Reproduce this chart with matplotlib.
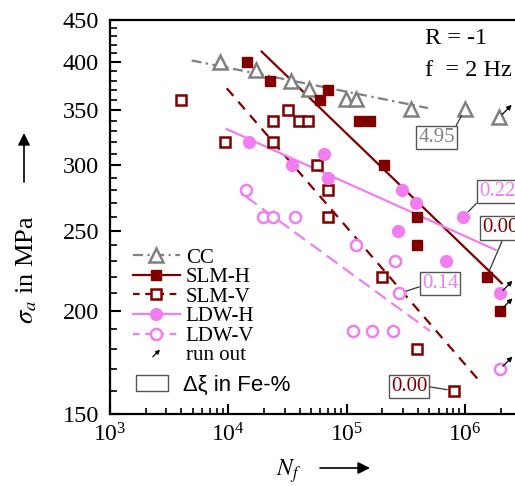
import matplotlib
matplotlib.use("Agg")
import matplotlib.pyplot as plt
from matplotlib.lines import Line2D
from matplotlib.patches import Rectangle, FancyArrowPatch
from matplotlib.legend_handler import HandlerBase
from matplotlib.ticker import FixedLocator, FixedFormatter, LogLocator, NullFormatter

plt.rcParams["font.family"] = ["Liberation Serif", "DejaVu Serif"]
plt.rcParams["mathtext.fontset"] = "stix"

# cycles to failure N_f and stress amplitude in MPa
cc_n = [8.5e3, 1.72e4, 3.4e4, 4.8e4, 9.9e4, 1.2e5, 3.5e5, 1.0e6, 1.95e6]
cc_s = [400, 391, 380, 371, 361, 361, 351, 351, 343]

slmh_n = [1.45e4, 2.25e4, 5.95e4, 7.0e4, 1.28e5, 1.58e5, 2.07e5, 3.92e5, 3.96e5, 1.53e6, 1.98e6]
slmh_s = [400, 380, 360, 370, 340, 340, 300, 260, 240, 220, 200]

slmv_n = [4.0e3, 9.4e3, 2.37e4, 2.4e4, 3.22e4, 3.98e4, 4.75e4, 5.6e4, 6.9e4, 7.0e4, 2.0e5, 3.96e5, 8.1e5]
slmv_s = [360, 320, 320, 340, 350, 340, 340, 300, 280, 260, 220, 180, 160]

ldwh_n = [1.5e4, 3.44e4, 6.44e4, 7.0e4, 2.74e5, 2.92e5, 3.86e5, 6.92e5, 9.7e5, 1.98e6]
ldwh_s = [320, 300, 310, 290, 250, 280, 270, 230, 260, 210]

ldwv_n = [1.4e4, 1.95e4, 2.4e4, 3.66e4, 1.13e5, 1.21e5, 1.63e5, 2.45e5, 2.57e5, 2.79e5, 1.98e6]
ldwv_s = [280, 260, 260, 260, 189, 240, 189, 189, 230, 210, 170]

# Basquin fit lines (end points)
cc_fit_n, cc_fit_s = [4.9e3, 4.87e5], [402, 352]
slmh_fit_n, slmh_fit_s = [1.915e4, 2.05e6], [412, 216]
slmv_fit_n, slmv_fit_s = [9.7e3, 1.30e6], [372, 165]
ldwh_fit_n, ldwh_fit_s = [9.7e3, 1.82e6], [332, 237]
ldwv_fit_n, ldwv_fit_s = [1.41e4, 5.07e5], [275, 189]

# delta xi labels: text, box position, point it refers to
dxi_text = ["4.95", "0.22", "0.00", "0.14", "0.00"]
dxi_box_n = [5.75e5, 1.87e6, 1.98e6, 6.16e5, 3.37e5]
dxi_box_s = [324, 279, 252, 216, 162]
dxi_pt_n = [1.0e6, 9.7e5, 1.53e6, 2.79e5, 8.1e5]
dxi_pt_s = [351, 260, 220, 210, 160]
dxi_relpos = [(1, 1), (0, 0), (0.6, 0), (0, 0.35), (1, 0.5)]

x_major = [1e3, 1e4, 1e5, 1e6]
y_major = [150, 200, 250, 300, 350, 400, 450]
y_minor = [s for s in range(160, 450, 10) if s % 50]

gray = "#808080"
maroon = "#800000"
violet = "#f07ef0"
dxi_color = [gray, violet, maroon, violet, maroon]

fig = plt.figure(figsize=(5.15, 4.86), dpi=100)
fig.patch.set_facecolor("white")
ax = fig.add_axes([110 / 515, 72 / 486, 473.2 / 515, 394 / 486])
ax.set_xscale("log")
ax.set_yscale("log")
ax.set_xlim(1e3, 1e7)
ax.set_ylim(150, 450)

# fit lines
ax.plot(cc_fit_n, cc_fit_s, color=gray, lw=1.6, dashes=(4.5, 2, 1, 2))
ax.plot(slmh_fit_n, slmh_fit_s, color=maroon, lw=1.6)
ax.plot(slmv_fit_n, slmv_fit_s, color=maroon, lw=1.6, dashes=(4.5, 3.5))
ax.plot(ldwh_fit_n, ldwh_fit_s, color=violet, lw=1.6)
ax.plot(ldwv_fit_n, ldwv_fit_s, color=violet, lw=1.6, dashes=(6, 3))

# test results
ax.plot(cc_n, cc_s, ls="none", marker="^", ms=10, mfc="white", mec=gray, mew=1.8)
ax.plot(slmh_n, slmh_s, ls="none", marker="s", ms=7.5, mfc=maroon, mec=maroon)
ax.plot(slmv_n, slmv_s, ls="none", marker="s", ms=7, mfc="white", mec=maroon, mew=1.8)
ax.plot(ldwh_n, ldwh_s, ls="none", marker="o", ms=8.5, mfc=violet, mec=violet)
ax.plot(ldwv_n, ldwv_s, ls="none", marker="o", ms=8, mfc="white", mec=violet, mew=1.8)

# run outs: last specimen of each series
for n, s in [(cc_n, cc_s), (slmh_n, slmh_s), (ldwh_n, ldwh_s), (ldwv_n, ldwv_s)]:
    ax.annotate("", xy=(n[-1], s[-1]), xycoords="data",
                xytext=(9, 9), textcoords="offset points",
                arrowprops=dict(arrowstyle="<|-", color="black", lw=0.9,
                                mutation_scale=7, shrinkA=0, shrinkB=3))

for t, bn, bs, pn, ps, rp, c in zip(dxi_text, dxi_box_n, dxi_box_s, dxi_pt_n, dxi_pt_s,
                                    dxi_relpos, dxi_color):
    ax.annotate(t, xy=(pn, ps), xytext=(bn, bs), ha="center", va="center",
                fontsize=15, color=c,
                bbox=dict(boxstyle="square,pad=0.1", fc="white", ec="#555555", lw=1),
                arrowprops=dict(arrowstyle="-", color="#333333", lw=0.9,
                                relpos=rp, shrinkA=0, shrinkB=5))

ax.text(0.6657, 0.954, "R = -1", transform=ax.transAxes, fontsize=17.5, va="center")
ax.text(0.6657, 0.873, "f  = 2 Hz", transform=ax.transAxes, fontsize=17.5, va="center")

# axes styling
for side in ["top", "left", "bottom"]:
    ax.spines[side].set_linewidth(1.6)
ax.yaxis.set_major_locator(FixedLocator(y_major))
ax.yaxis.set_major_formatter(FixedFormatter([str(v) for v in y_major]))
ax.yaxis.set_minor_locator(FixedLocator(y_minor))
ax.yaxis.set_minor_formatter(NullFormatter())
ax.xaxis.set_major_locator(FixedLocator(x_major))
ax.xaxis.set_minor_locator(LogLocator(base=10, subs=range(2, 10)))
ax.xaxis.set_minor_formatter(NullFormatter())
ax.tick_params(axis="y", which="major", direction="in", length=8, width=1.5, labelsize=17.5, pad=8)
ax.tick_params(axis="y", which="minor", direction="in", length=5, width=1.2)
ax.tick_params(axis="x", which="major", direction="in", length=7, width=1.5, labelsize=17, pad=7)
ax.tick_params(axis="x", which="minor", direction="in", length=4, width=1.2)

# axis titles with arrows
fig.text(27 / 515, 1 - 270 / 486, r"$\sigma_a$ in MPa", rotation=90, fontsize=19,
         ha="center", va="center")
ax.annotate("", xy=(24 / 515, 1 - 133 / 486), xycoords="figure fraction",
            xytext=(24 / 515, 1 - 182 / 486), textcoords="figure fraction",
            arrowprops=dict(arrowstyle="-|>", color="black", lw=1.2,
                            mutation_scale=18, shrinkA=0, shrinkB=0))
fig.text(289 / 515, 1 - 471 / 486, r"$N_f$", fontsize=17, ha="center", va="center")
ax.annotate("", xy=(370 / 515, 1 - 468 / 486), xycoords="figure fraction",
            xytext=(320 / 515, 1 - 468 / 486), textcoords="figure fraction",
            arrowprops=dict(arrowstyle="-|>", color="black", lw=1.2,
                            mutation_scale=18, shrinkA=0, shrinkB=0))


class RunOutHandler(HandlerBase):
    def create_artists(self, legend, orig_handle, xdescent, ydescent,
                       width, height, fontsize, trans):
        cx = width / 2 - xdescent
        cy = height / 2 - ydescent
        arrow = FancyArrowPatch((cx - 4, cy - 4), (cx + 4, cy + 4), arrowstyle="-|>",
                                mutation_scale=6, lw=0.9, color="black", transform=trans)
        return [arrow]


handles = [
    Line2D([], [], color=gray, lw=1.6, dashes=(4.5, 2, 1, 2), marker="^", ms=10,
           mfc="white", mec=gray, mew=1.8),
    Line2D([], [], color=maroon, lw=1.6, marker="s", ms=7.5, mfc=maroon, mec=maroon),
    Line2D([], [], color=maroon, lw=1.6, dashes=(3, 2.5), marker="s", ms=7,
           mfc="white", mec=maroon, mew=1.8),
    Line2D([], [], color=violet, lw=1.6, marker="o", ms=8.5, mfc=violet, mec=violet),
    Line2D([], [], color=violet, lw=1.6, dashes=(3, 2.5), marker="o", ms=8,
           mfc="white", mec=violet, mew=1.8),
    FancyArrowPatch((0, 0), (1, 1)),
]
labels = ["CC", "SLM-H", "SLM-V", "LDW-H", "LDW-V", "run out"]
leg = ax.legend(handles, labels, loc="upper left",
                bbox_to_anchor=((133 - 110) / 473.2, (414 - 248) / 394),
                frameon=False, fontsize=15, borderpad=0, borderaxespad=0,
                handlelength=2.25, handletextpad=0.28, labelspacing=0.0,
                handler_map={FancyArrowPatch: RunOutHandler()})
ax.add_artist(leg)

box_handle = Rectangle((0, 0), 1, 1, fc="white", ec="#555555", lw=1)
leg2 = ax.legend([box_handle], [u"\u0394\u03be in Fe-%"], loc="upper left",
                 bbox_to_anchor=((136 - 110) / 473.2, (414 - 375) / 394),
                 frameon=False, borderpad=0, borderaxespad=0,
                 handlelength=1.45, handleheight=0.75, handletextpad=0.65,
                 prop={"family": "Liberation Sans", "size": 16})

fig.savefig("out.png", dpi=100)
